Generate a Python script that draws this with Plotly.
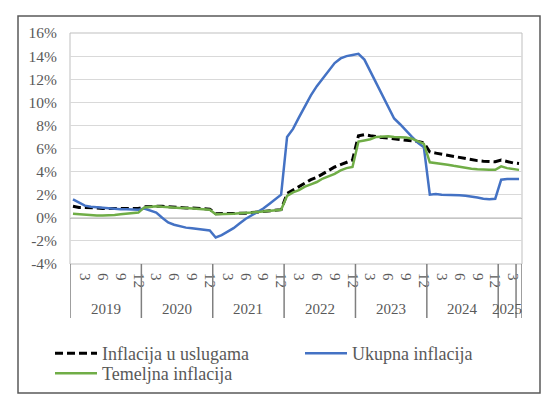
import plotly.graph_objects as go

# ---------------- data ----------------
years = ["2019", "2020", "2021", "2022", "2023", "2024", "2025"]
months_per_year = [12, 12, 12, 12, 12, 12, 4]

ukupna = [
    1.6, 1.3, 1.05, 0.95, 0.9, 0.85, 0.8, 0.8, 0.75, 0.75, 0.7, 0.7,          # 2019
    0.8, 0.65, 0.45, 0.0, -0.4, -0.6, -0.75, -0.85, -0.9, -0.95, -1.0, -1.1,  # 2020
    -1.7, -1.5, -1.2, -0.9, -0.5, -0.1, 0.2, 0.5, 0.8, 1.2, 1.6, 2.0,         # 2021
    7.0, 7.7, 8.7, 9.7, 10.6, 11.4, 12.1, 12.8, 13.4, 13.8, 14.0, 14.1,       # 2022
    14.2, 13.7, 12.7, 11.7, 10.7, 9.6, 8.6, 8.1, 7.5, 7.0, 6.5, 6.1,          # 2023
    2.0, 2.05, 2.0, 2.0, 2.0, 1.95, 1.9, 1.85, 1.75, 1.65, 1.6, 1.65,         # 2024
    3.3, 3.35, 3.35, 3.35,                                                     # 2025
]
usluge = [
    1.0, 0.9, 0.9, 0.9, 0.85, 0.8, 0.8, 0.8, 0.8, 0.8, 0.8, 0.8,
    0.95, 1.0, 1.0, 1.0, 0.95, 0.9, 0.9, 0.85, 0.85, 0.8, 0.8, 0.75,
    0.35, 0.35, 0.35, 0.4, 0.4, 0.4, 0.45, 0.5, 0.55, 0.6, 0.65, 0.7,
    2.1, 2.4, 2.7, 3.0, 3.3, 3.5, 3.8, 4.1, 4.4, 4.6, 4.8, 5.0,
    7.1, 7.2, 7.1, 7.0, 6.95, 6.9, 6.85, 6.8, 6.75, 6.7, 6.6, 6.5,
    5.7, 5.6, 5.5, 5.4, 5.3, 5.2, 5.1, 5.0, 4.95, 4.9, 4.85, 4.85,
    5.0, 4.85, 4.75, 4.7,
]
temeljna = [
    0.35, 0.3, 0.3, 0.25, 0.2, 0.2, 0.2, 0.25, 0.3, 0.35, 0.4, 0.45,
    0.9, 0.95, 1.0, 0.95, 0.9, 0.9, 0.85, 0.85, 0.8, 0.8, 0.75, 0.7,
    0.3, 0.3, 0.3, 0.35, 0.4, 0.4, 0.45, 0.5, 0.55, 0.6, 0.65, 0.7,
    1.9, 2.2, 2.4, 2.7, 2.9, 3.1, 3.4, 3.6, 3.8, 4.1, 4.3, 4.4,
    6.6, 6.7, 6.8, 7.0, 7.05, 7.05, 7.0, 7.0, 6.95, 6.85, 6.6, 6.4,
    4.8, 4.75, 4.7, 4.6, 4.5, 4.4, 4.3, 4.25, 4.2, 4.15, 4.15, 4.15,
    4.45, 4.3, 4.2, 4.15,
]
month_tick_labels = ["3", "6", "9", "12"]
y_tick_values = [-4, -2, 0, 2, 4, 6, 8, 10, 12, 14, 16]
y_tick_labels = ["-4%", "-2%", "0%", "2%", "4%", "6%", "8%", "10%", "12%", "14%", "16%"]
series_names = ["Inflacija u uslugama", "Ukupna inflacija", "Temeljna inflacija"]

# ---------------- build ----------------
x = list(range(len(ukupna)))
tickvals, ticktext = [], []
start = 0
year_starts = []
for yr, n in zip(years, months_per_year):
    year_starts.append(start)
    for lab in month_tick_labels:
        m = int(lab)
        if m <= n and not (yr == "2025" and m > 3):
            tickvals.append(start + m - 1)
            ticktext.append(lab)
    start += n

W, H = 560, 410
L, R, T, B = 70, 38, 33, 146
pw, ph = W - L - R, H - T - B
font_family = "Liberation Serif"
gray = "#595959"

fig = go.Figure()
fig.add_trace(go.Scatter(x=x, y=usluge, name=series_names[0], mode="lines",
                         line=dict(color="#000000", width=3, dash="8px,4px"),
                         legend="legend"))
fig.add_trace(go.Scatter(x=x, y=ukupna, name=series_names[1], mode="lines",
                         line=dict(color="#4472C4", width=2.5), legend="legend"))
fig.add_trace(go.Scatter(x=x, y=temeljna, name=series_names[2], mode="lines",
                         line=dict(color="#70AD47", width=2.5), legend="legend2"))

def px_x(p):
    return (p - L) / pw

def px_y(p):
    return (H - B - p) / ph

shapes = []
# outer chart border
shapes.append(dict(type="rect", xref="paper", yref="paper",
                   x0=px_x(18), x1=px_x(540), y0=px_y(393), y1=px_y(16),
                   line=dict(color="#595959", width=1.5), layer="below"))
# plot area border
shapes.append(dict(type="rect", xref="paper", yref="paper", x0=0, x1=1, y0=0, y1=1,
                   line=dict(color="#BFBFBF", width=1), layer="below"))
# zero line
shapes.append(dict(type="line", xref="paper", yref="y", x0=0, x1=1, y0=0, y1=0,
                   line=dict(color="#8C8C8C", width=1.5), layer="below"))
# year separators in the category axis
n_total = len(ukupna)
sep_positions = year_starts + [year_starts[-1] + 3, n_total]
for s in sep_positions:
    shapes.append(dict(type="line", xref="x", yref="paper", x0=s - 0.5, x1=s - 0.5,
                       y0=0, y1=px_y(318), line=dict(color="#7F7F7F", width=1.5)))

annotations = []
for yr, s, n in zip(years, year_starts, months_per_year):
    span = 3 if yr == "2025" else n
    annotations.append(dict(x=s + (span - 1) / 2, y=px_y(309), xref="x", yref="paper",
                            xanchor="center", yanchor="middle",
                            text=yr, showarrow=False,
                            font=dict(family=font_family, size=15, color=gray)))

legend_common = dict(orientation="h", xref="paper", yref="paper",
                     xanchor="left", yanchor="top",
                     entrywidthmode="pixels", entrywidth=193,
                     font=dict(family=font_family, size=18, color=gray),
                     tracegroupgap=0, itemwidth=42, bgcolor="rgba(0,0,0,0)")

fig.update_layout(
    width=W, height=H,
    margin=dict(l=L, r=R, t=T, b=B),
    paper_bgcolor="white", plot_bgcolor="white",
    font=dict(family=font_family, color=gray, size=15),
    xaxis=dict(range=[-0.5, n_total - 0.5], tickmode="array", tickvals=tickvals,
               ticktext=ticktext, tickangle=90, showgrid=False, zeroline=False,
               showline=False, ticks="", ticklabelstandoff=8,
               tickfont=dict(family=font_family, size=15, color=gray)),
    yaxis=dict(range=[-4, 16], tickmode="array", tickvals=y_tick_values,
               ticktext=y_tick_labels, showgrid=True, gridcolor="#D9D9D9",
               gridwidth=1, zeroline=False, showline=False, ticks="",
               ticklabelstandoff=12,
               tickfont=dict(family=font_family, size=15.5, color=gray)),
    shapes=shapes,
    annotations=annotations,
    showlegend=True,
    legend=dict(legend_common, x=px_x(50), y=px_y(335)),
    legend2=dict(legend_common, x=px_x(50), y=px_y(355)),
)

fig.write_html("out.html")
